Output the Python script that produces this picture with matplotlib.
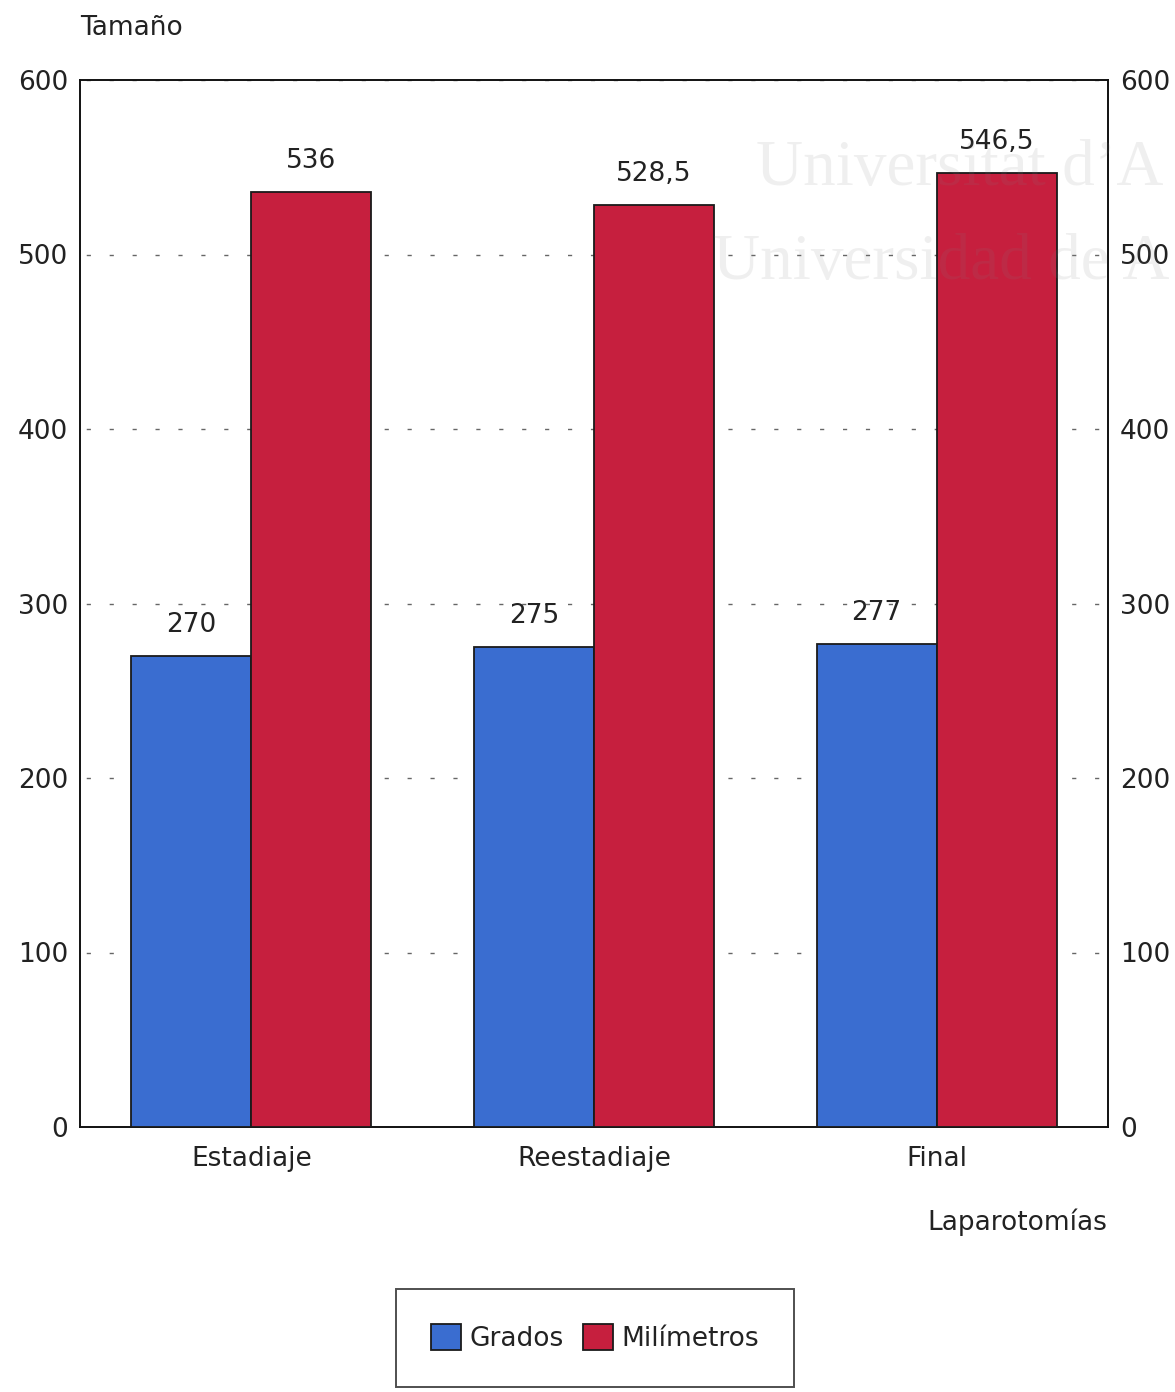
import matplotlib
matplotlib.use("Agg")
import matplotlib.pyplot as plt
import numpy as np

# Data
categories = ["Estadiaje", "Reestadiaje", "Final"]
grados = [270, 275, 277]
milimetros = [536, 528.5, 546.5]
series_names = ["Grados", "Milímetros"]
y_ticks = [0, 100, 200, 300, 400, 500, 600]

blue = "#3a6dd0"
red = "#c61f3e"
ink = "#222222"
FS = 19

plt.rcParams["font.family"] = ["DejaVu Sans"]

fig = plt.figure(figsize=(11.75, 13.92), dpi=100)
ax = fig.add_axes([80 / 1175, 265 / 1392, 1028 / 1175, 1047 / 1392])

x = np.arange(len(categories))
w = 0.35
b1 = ax.bar(x - w / 2, grados, w, color=blue, edgecolor="#1a1a1a", linewidth=1.3,
            zorder=3, label=series_names[0])
b2 = ax.bar(x + w / 2, milimetros, w, color=red, edgecolor="#1a1a1a", linewidth=1.3,
            zorder=3, label=series_names[1])


def fmt(v):
    return f"{v:g}".replace(".", ",")


for bars, vals in ((b1, grados), (b2, milimetros)):
    for rect, v in zip(bars, vals):
        ax.annotate(fmt(v), (rect.get_x() + rect.get_width() / 2, v),
                    xytext=(0, 31), textcoords="offset pixels",
                    ha="center", va="center", fontsize=FS, color=ink, zorder=4)

ax.set_xlim(-0.5, 2.5)
ax.set_ylim(0, 600)
ax.set_yticks(y_ticks)
ax.set_xticks(x)
ax.set_xticklabels(categories)

ax.grid(axis="y", color="#666666", linestyle=(12, (3, 13.5)), linewidth=1.0, zorder=1)
ax.tick_params(axis="y", length=0, labelsize=FS, labelcolor=ink,
               left=True, right=True, labelleft=True, labelright=True)
for t in ax.get_yticklabels():
    pass
ax.yaxis.set_tick_params(which="major", pad=8.5)
ax.tick_params(axis="x", length=0, labelsize=FS, pad=14, labelcolor=ink)
for side in ax.spines.values():
    side.set_color("#111111")
    side.set_linewidth(1.4)

fig.text(80 / 1175, 1 - 28 / 1392, "Tamaño", ha="left", va="center",
         fontsize=FS, color=ink)
fig.text(1107 / 1175, 1 - 1222 / 1392, "Laparotomías", ha="right", va="center",
         fontsize=FS, color=ink)

# Faint institutional seal text across the upper right
for txt, xx, yy in (("Universitat d\u2019A", 756, 185),
                    ("Universidad de A", 713, 279)):
    fig.text(xx / 1175, 1 - yy / 1392, txt, ha="left", va="baseline",
             fontsize=47, family="Liberation Serif", color="#808080",
             alpha=0.12, zorder=10)

leg = fig.legend(handles=[b1, b2], labels=series_names, loc="center",
                 bbox_to_anchor=(595 / 1175, 1 - 1338 / 1392), ncol=2,
                 fontsize=FS, frameon=True, fancybox=False, edgecolor=ink,
                 handlelength=1.14, handleheight=1.14, handletextpad=0.3,
                 columnspacing=0.76, borderpad=1.33, borderaxespad=0)
leg.get_frame().set_linewidth(1.4)
for t in leg.get_texts():
    t.set_color(ink)

fig.savefig("out.png", dpi=100, facecolor="white")
